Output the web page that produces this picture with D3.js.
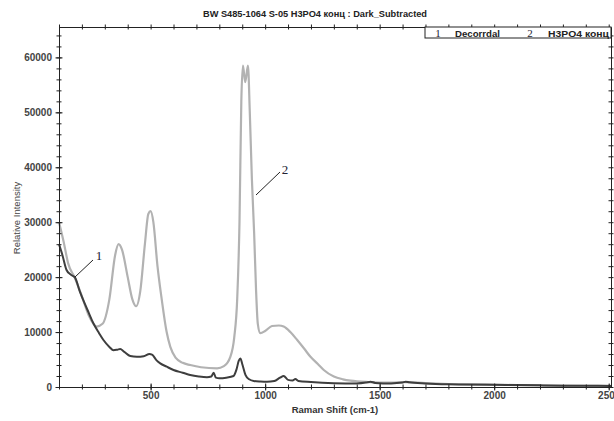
<!DOCTYPE html>
<html>
<head>
<meta charset="utf-8">
<script src="https://cdn.jsdelivr.net/npm/d3@7"></script>
<style>
  html, body { margin: 0; padding: 0; background: #fff; }
  svg { display: block; font-family: "Liberation Sans", Arial, sans-serif; }
</style>
</head>
<body>
<svg id="chart" width="614" height="421"></svg>
<script>
// Raman spectra: Decorrdal (1) and H3PO4 конц (2), dark-subtracted
const titleText = "BW S485-1064 S-05 H3PO4 конц : Dark_Subtracted";
const xTitle = "Raman Shift (cm-1)";
const yTitle = "Relative Intensity";
const legendNames = ["Decorrdal", "H3PO4 конц"];

const xMajorTicks = [500, 1000, 1500, 2000, 2500];
const yMajorTicks = [0, 10000, 20000, 30000, 40000, 50000, 60000];

// Series 1 — Decorrdal
const shift1 = [100, 115, 133, 150, 170, 190, 206, 230, 250, 275, 294, 320, 338, 355, 367, 385, 411, 440, 470, 495, 506, 525, 542, 570, 600, 640, 673, 710, 746, 765, 775, 785, 800, 830, 862, 875, 885, 892, 900, 914, 930, 950, 980, 1008, 1040, 1065, 1081, 1100, 1120, 1132, 1145, 1200, 1300, 1400, 1440, 1460, 1480, 1550, 1600, 1613, 1630, 1700, 1800, 1900, 2000, 2100, 2200, 2300, 2400, 2510];
const intensity1 = [26000, 24000, 21300, 20500, 19900, 17500, 15800, 13500, 11600, 9800, 8550, 7300, 6700, 6800, 6900, 6400, 5640, 5500, 5600, 6000, 5900, 4900, 4300, 3700, 3100, 2600, 2180, 1900, 1760, 1900, 2600, 1700, 1600, 1700, 2000, 3200, 4800, 5200, 4200, 2200, 1400, 1100, 1000, 960, 1100, 1700, 2000, 1300, 1200, 1450, 1100, 900, 700, 650, 800, 960, 750, 650, 800, 960, 850, 650, 500, 450, 400, 350, 300, 250, 220, 200];

// Series 2 — H3PO4 конц
const shift2 = [100, 120, 140, 170, 200, 230, 265, 290, 320, 345, 360, 375, 400, 420, 437, 455, 475, 490, 500, 512, 530, 549, 570, 586, 610, 640, 673, 720, 790, 820, 848, 865, 878, 888, 896, 903, 913, 925, 933, 942, 952, 960, 968, 979, 1000, 1030, 1060, 1081, 1110, 1140, 1170, 1198, 1230, 1256, 1300, 1340, 1373, 1450, 1550, 1610, 1700, 1800, 1900, 2000, 2100, 2200, 2300, 2400, 2510];
const intensity2 = [30000, 26500, 22500, 19800, 16500, 13000, 11000, 11500, 16000, 24000, 26000, 25000, 20000, 16000, 14700, 17500, 26000, 31500, 32000, 30000, 22000, 15800, 10000, 7300, 5300, 4400, 4000, 3600, 3400, 3800, 5500, 9000, 16000, 30000, 52000, 58500, 55500, 58500, 50000, 38000, 28000, 18000, 11500, 9800, 10200, 11100, 11200, 11000, 10000, 8550, 7000, 5500, 4200, 3100, 1900, 1400, 1150, 900, 800, 900, 700, 550, 450, 400, 350, 300, 250, 220, 200];

const svg = d3.select("#chart");
const plotL = 59, plotR = 611, plotT = 27, plotB = 387;

const x = d3.scaleLinear().domain([100, 2510]).range([plotL, plotR]);
const y = d3.scaleLinear().domain([0, 65535]).range([plotB, plotT]);

const axisColor = "#222";
const labelColor = "#444";

// Spectra
const line = d3.line()
  .x(d => x(d[0]))
  .y(d => y(d[1]))
  .curve(d3.curveMonotoneX);

const s1 = d3.zip(shift1, intensity1);
const s2 = d3.zip(shift2, intensity2);

const plot = svg.append("g");
plot.append("path").datum(s2)
  .attr("d", line).attr("fill", "none")
  .attr("stroke", "#b2b2b2").attr("stroke-width", 2.2).attr("stroke-linejoin", "round");
plot.append("path").datum(s1)
  .attr("d", line).attr("fill", "none")
  .attr("stroke", "#3e3e3e").attr("stroke-width", 2).attr("stroke-linejoin", "round");

// Axes: ticks straddle the axis line
function crossTicks(g, half, vertical) {
  g.selectAll(".tick line")
    .attr("stroke", axisColor)
    .attr(vertical ? "x1" : "y1", -half)
    .attr(vertical ? "x2" : "y2", half);
}

const xMinor = d3.range(100, 2501, 100);
const yMinor = d3.range(0, 65001, 2000);

// bottom
const gxMinor = svg.append("g").attr("transform", `translate(0,${plotB})`)
  .call(d3.axisBottom(x).tickValues(xMinor).tickFormat(""));
gxMinor.select(".domain").remove();
crossTicks(gxMinor, 2.5, false);

const gx = svg.append("g").attr("transform", `translate(0,${plotB})`)
  .call(d3.axisBottom(x).tickValues(xMajorTicks).tickFormat(d3.format("d")).tickSizeOuter(0));
gx.select(".domain").attr("stroke", axisColor);
crossTicks(gx, 3.5, false);
gx.selectAll(".tick text")
  .attr("y", 12).attr("dy", null)
  .attr("fill", labelColor)
  .style("font-size", "10px").style("font-weight", "bold");

// top
const gxt = svg.append("g").attr("transform", `translate(0,${plotT})`)
  .call(d3.axisTop(x).tickValues(xMinor).tickFormat("").tickSizeOuter(0));
gxt.select(".domain").attr("stroke", axisColor);
crossTicks(gxt, 2.5, false);

// left
const gyMinor = svg.append("g").attr("transform", `translate(${plotL},0)`)
  .call(d3.axisLeft(y).tickValues(yMinor).tickFormat(""));
gyMinor.select(".domain").remove();
crossTicks(gyMinor, 2.5, true);

const gy = svg.append("g").attr("transform", `translate(${plotL},0)`)
  .call(d3.axisLeft(y).tickValues(yMajorTicks).tickFormat(d3.format("d")).tickSizeOuter(0));
gy.select(".domain").attr("stroke", axisColor);
crossTicks(gy, 3.5, true);
gy.selectAll(".tick text")
  .attr("x", -7)
  .attr("fill", labelColor)
  .style("font-size", "10px").style("font-weight", "bold");

// right
const gyr = svg.append("g").attr("transform", `translate(${plotR},0)`)
  .call(d3.axisRight(y).tickValues(yMinor).tickFormat("").tickSizeOuter(0));
gyr.select(".domain").attr("stroke", axisColor);
crossTicks(gyr, 2.5, true);

// Titles
svg.append("text")
  .attr("x", 315).attr("y", 17)
  .attr("text-anchor", "middle")
  .attr("fill", "#222")
  .style("font-size", "9px").style("font-weight", "bold")
  .attr("textLength", 224).attr("lengthAdjust", "spacingAndGlyphs")
  .text(titleText);

svg.append("text")
  .attr("x", 335).attr("y", 413)
  .attr("text-anchor", "middle")
  .attr("fill", "#333")
  .style("font-size", "9.5px").style("font-weight", "bold")
  .text(xTitle);

svg.append("text")
  .attr("transform", "translate(20,218) rotate(-90)")
  .attr("text-anchor", "middle")
  .attr("fill", "#444")
  .style("font-size", "9.5px")
  .text(yTitle);

// Legend
const lg = svg.append("g");
lg.append("rect")
  .attr("x", 425).attr("y", plotT).attr("width", plotR - 425).attr("height", 11)
  .attr("fill", "#fff").attr("stroke", axisColor).attr("stroke-width", 1);
const legendItems = [
  { num: "1", nx: 438, tx: 455, name: legendNames[0], w: 45 },
  { num: "2", nx: 530, tx: 548, name: legendNames[1], w: 61 }
];
legendItems.forEach(it => {
  lg.append("text").attr("x", it.nx).attr("y", 37)
    .attr("text-anchor", "middle").attr("fill", "#223")
    .style("font-family", "'Liberation Serif', 'Times New Roman', serif")
    .style("font-size", "11px").text(it.num);
  lg.append("text").attr("x", it.tx).attr("y", 36.5)
    .attr("fill", "#222")
    .style("font-size", "9px").style("font-weight", "bold")
    .attr("textLength", it.w).attr("lengthAdjust", "spacingAndGlyphs")
    .text(it.name);
});

// Curve callouts
const callouts = [
  { label: "1", x1: 75, y1: 277, x2: 93, y2: 260, tx: 99, ty: 260 },
  { label: "2", x1: 256, y1: 195, x2: 280, y2: 172, tx: 285, ty: 174 }
];
callouts.forEach(c => {
  svg.append("line")
    .attr("x1", c.x1).attr("y1", c.y1).attr("x2", c.x2).attr("y2", c.y2)
    .attr("stroke", "#222").attr("stroke-width", 1);
  svg.append("text")
    .attr("x", c.tx).attr("y", c.ty)
    .attr("text-anchor", "middle").attr("fill", "#223")
    .style("font-family", "'Liberation Serif', 'Times New Roman', serif")
    .style("font-size", "13px")
    .text(c.label);
});
</script>
</body>
</html>
